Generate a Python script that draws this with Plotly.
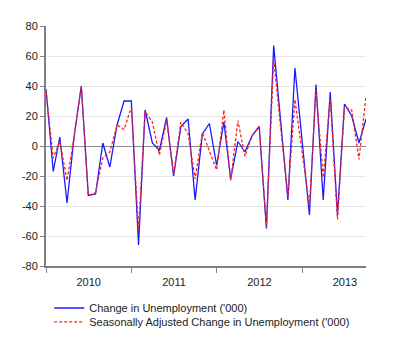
import pandas as pd
import plotly.graph_objects as go

months = pd.date_range("2010-01-01", periods=46, freq="MS")

change_unemp = [38, -17, 6, -38, 6, 40, -33, -32, 2, -14, 14, 30,
                30, -66, 24, 2, -3, 19, -20, 13, 18, -36, 8, 15,
                -13, 16, -22, 3, -4, 7, 13, -55, 67, 15, -36, 52,
                3, -46, 41, -36, 36, -46, 28, 20, 2, 18]

sa_change_unemp = [36, -8, 3, -23, 6, 40, -33, -31, -8, -4, 14, 11,
                   26, -56, 23, 16, -6, 17, -19, 16, 8, -22, 9, -3,
                   -16, 24, -23, 17, -7, 7, 13, -54, 58, 12, -33, 31,
                   -4, -40, 37, -21, 32, -49, 26, 24, -9, 33]

y_ticks = [-80, -60, -40, -20, 0, 20, 40, 60, 80]
y_tick_labels = ["-80", "-60", "-40", "-20", "0", "20", "40", "60", "80"]

name1 = "Change in Unemployment ('000)"
name2 = "Seasonally Adjusted Change in Unemployment ('000)"

fig = go.Figure()
fig.add_trace(go.Scatter(x=months, y=change_unemp, mode="lines", name=name1,
                         line=dict(color="#1a1aff", width=1.3), legend="legend"))
fig.add_trace(go.Scatter(x=months, y=sa_change_unemp, mode="lines", name=name2,
                         line=dict(color="#ff2020", width=1.3, dash="3px,2px"),
                         legend="legend2"))

font = dict(family="Liberation Sans, Arial, sans-serif", size=11, color="#222")

fig.update_layout(
    width=400, height=354,
    margin=dict(l=46, r=34, t=26, b=88),
    paper_bgcolor="white", plot_bgcolor="white",
    font=font,
    showlegend=True,
    legend=dict(x=0.01, xanchor="left", y=-0.175, yanchor="middle",
                bgcolor="rgba(0,0,0,0)", font=font),
    legend2=dict(x=0.01, xanchor="left", y=-0.233, yanchor="middle",
                 bgcolor="rgba(0,0,0,0)", font=font),
    xaxis=dict(
        range=[months[0], months[-1]],
        tickmode="linear", tick0="2010-01-01", dtick="M12",
        ticklabelmode="period", tickformat="%Y",
        ticks="outside", ticklen=5, tickcolor="#888", tickwidth=1,
        showline=True, linecolor="#808080", linewidth=2,
        showgrid=False, zeroline=False,
        tickfont=font,
    ),
    yaxis=dict(
        range=[-80, 80], tickmode="array", tickvals=y_ticks, ticktext=y_tick_labels,
        ticks="outside", ticklen=4, tickcolor="#888", tickwidth=1,
        showline=True, linecolor="#808080", linewidth=2,
        showgrid=True, gridcolor="#e6e6e6", gridwidth=1,
        zeroline=True, zerolinecolor="#8c8c8c", zerolinewidth=1.3,
        tickfont=font,
    ),
)

fig.write_html("out.html")
